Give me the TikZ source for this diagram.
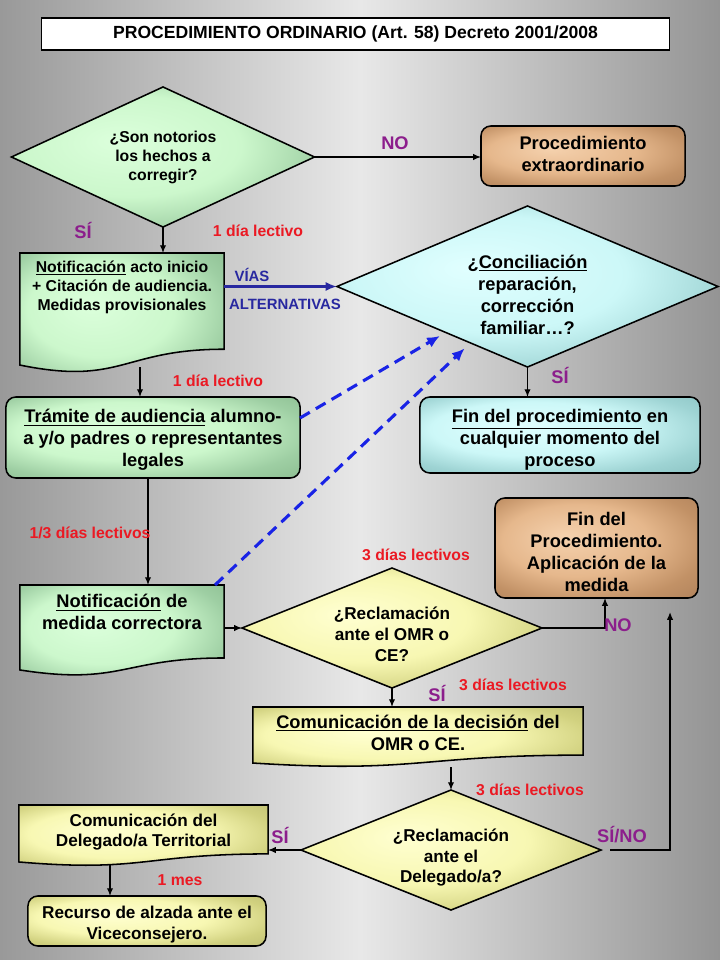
\documentclass[tikz,border=0pt]{standalone}
\usepackage{fontspec}
\setmainfont{Liberation Sans}
\usepackage{tikz}
\usetikzlibrary{arrows.meta,shapes.geometric,calc,backgrounds}

\definecolor{lblred}{RGB}{235,25,35}
\definecolor{lblpurple}{RGB}{140,30,140}
\definecolor{viablue}{RGB}{40,40,160}
\definecolor{dashblue}{RGB}{25,35,230}

\pgfdeclareradialshading{greenglow}{\pgfpoint{-8bp}{6bp}}{rgb(0bp)=(0.86,1,0.86); rgb(18bp)=(0.80,0.97,0.80); rgb(30bp)=(0.62,0.81,0.64); rgb(50bp)=(0.45,0.65,0.47)}
\pgfdeclareradialshading{cyanglow}{\pgfpoint{-8bp}{6bp}}{rgb(0bp)=(0.88,1,1); rgb(18bp)=(0.80,0.97,0.97); rgb(30bp)=(0.62,0.83,0.83); rgb(50bp)=(0.45,0.68,0.68)}
\pgfdeclareradialshading{yellowglow}{\pgfpoint{-8bp}{6bp}}{rgb(0bp)=(1,1,0.82); rgb(18bp)=(0.97,0.97,0.70); rgb(30bp)=(0.82,0.82,0.50); rgb(50bp)=(0.66,0.66,0.38)}
\pgfdeclareradialshading{tanglow}{\pgfpoint{-8bp}{6bp}}{rgb(0bp)=(0.96,0.82,0.68); rgb(18bp)=(0.90,0.72,0.55); rgb(30bp)=(0.76,0.57,0.40); rgb(50bp)=(0.60,0.43,0.30)}

\newcommand{\fbig}{\fontsize{13}{15.6}\selectfont\bfseries}
\newcommand{\fmid}{\fontsize{12.2}{14.8}\selectfont\bfseries}
\newcommand{\fsmall}{\fontsize{11.2}{13.6}\selectfont\bfseries}
% text of a box, centred on the node, raised by #1
\newcommand{\btext}[2][0pt]{\smash{\makebox[0pt]{\raisebox{\dimexpr#1-3.3pt\relax}{\begin{tabular}{@{}c@{}}#2\end{tabular}}}}}
% document outline (wavy bottom) round node #1 of height #2
\newcommand{\docoutline}[3]{%
  \shade[shading=#3, draw, line width=1.1pt]
    (#1.north west) -- (#1.north east) -- ($(#1.north east)+(0,0.802*#2)$)
    .. controls ($(#1.north)+(0,0.802*#2)$) and ($(#1.north)+(0,1.1075*#2)$) .. ($(#1.north west)+(0,0.934*#2)$) -- cycle;}

\begin{document}
\begin{tikzpicture}[x=0.025cm, y=-0.025cm, >=Latex,
    box/.style={rectangle, rounded corners=7pt, draw, line width=1.1pt, inner sep=0pt, outer sep=0pt, shade},
    docbox/.style={rectangle, inner sep=0pt, outer sep=0pt},
    dia/.style={diamond, draw, line width=1.1pt, inner sep=0pt, outer sep=0pt, shade},
    arr/.style={-{Latex[length=5.5pt,width=4.5pt]}, line width=0.9pt},
    via/.style={-{Latex[length=8pt,width=6.5pt]}, line width=2pt, viablue},
    alt/.style={-{Latex[length=9pt,width=8pt]}, line width=2.2pt, dashblue, dash pattern=on 8pt off 5pt},
    dias/.style={font=\fsmall, text=lblred, inner sep=1pt},
    sino/.style={font=\fbig, text=lblpurple, inner sep=1pt},
    vias/.style={font=\fontsize{10.6}{12}\selectfont\bfseries, text=viablue, inner sep=1pt}]
    \useasboundingbox (0,0) rectangle (720,960);
    \begin{pgfonlayer}{background}
      \shade[left color=black!40, right color=black!42, middle color=black!9] (0,0) rectangle (720,960);
    \end{pgfonlayer}

    \node[rectangle, draw, fill=white, line width=0.8pt, inner sep=0pt, minimum width=15.675cm, minimum height=0.8cm,
          font=\fontsize{12.5}{15}\selectfont\bfseries] (titulo) at (355.5,34)
          {\btext{PROCEDIMIENTO ORDINARIO (Art. 58) Decreto 2001/2008}};

    \node[dia, shading=greenglow, minimum width=7.575cm, minimum height=3.5cm, font=\fsmall] (notorios) at (163,157)
          {\btext{¿Son notorios\\los hechos a\\corregir?}};
    \node[box, shading=tanglow, minimum width=5.1cm, minimum height=1.5cm, font=\fbig] (extra) at (583,156)
          {\btext{Procedimiento\\extraordinario}};
    \node[docbox, minimum width=5.1cm, minimum height=3cm, font=\fsmall] (notif) at (122,313)
          {\btext[18.5pt]{\underline{Notificación} acto inicio\\+ Citación de audiencia.\\Medidas provisionales}};
    \node[dia, shading=cyanglow, minimum width=9.525cm, minimum height=4.025cm, font=\fbig] (concil) at (527.5,286.5)
          {\btext[-7pt]{¿\underline{Conciliación}\\reparación,\\corrección\\familiar…?}};
    \node[box, shading=cyanglow, minimum width=7cm, minimum height=1.9cm, font=\fbig] (finproc) at (560,435)
          {\btext[-3.5pt]{\underline{Fin del procedimiento} en\\cualquier momento del\\proceso}};
    \node[box, shading=greenglow, minimum width=7.35cm, minimum height=2.025cm, font=\fbig] (tramite) at (153,437.5)
          {\btext[-1.8pt]{\underline{Trámite de audiencia} alumno-\\a y/o padres o representantes\\legales}};
    \node[docbox, minimum width=5.1cm, minimum height=2.275cm, font=\fbig] (medida) at (122,630.5)
          {\btext[11.7pt]{\underline{Notificación} de\\medida correctora}};
    \node[dia, shading=yellowglow, minimum width=7.5cm, minimum height=3cm, font=\fmid] (reclam) at (392,628)
          {\btext[-5.7pt]{¿Reclamación\\ante el OMR o\\CE?}};
    \node[box, shading=tanglow, minimum width=5.075cm, minimum height=2.5cm, font=\fbig] (aplica) at (596.5,548)
          {\btext[-3.9pt]{Fin del\\Procedimiento.\\Aplicación de la\\medida}};
    \node[docbox, minimum width=8.25cm, minimum height=1.5cm, font=\fbig] (decision) at (418,737)
          {\btext[1.8pt]{\underline{Comunicación de la decisión} del\\OMR o CE.}};
    \node[dia, shading=yellowglow, minimum width=7.5cm, minimum height=3cm, font=\fmid] (delegado) at (451,850)
          {\btext[-5.3pt]{¿Reclamación\\ante el\\Delegado/a?}};
    \node[docbox, minimum width=6.225cm, minimum height=1.525cm, font=\fmid] (territ) at (143.5,835.5)
          {\btext[2.5pt]{Comunicación del\\Delegado/a Territorial}};
    \node[box, shading=yellowglow, minimum width=5.95cm, minimum height=1.25cm, font=\fmid] (alzada) at (147,921)
          {\btext[-2.5pt]{Recurso de alzada ante el\\Viceconsejero.}};

    \begin{pgfonlayer}{background}
      \docoutline{notif}{120}{greenglow}
      \docoutline{medida}{91}{greenglow}
      \docoutline{decision}{60}{yellowglow}
      \docoutline{territ}{61}{yellowglow}
    \end{pgfonlayer}

    % connectors
    \coordinate (notifout) at ($(notif.south)+(18,-6)$);
    \coordinate (tramout) at ($(tramite.south)+(-5,0)$);
    \coordinate (territout) at ($(territ.south)+(-33.5,-1)$);
    \coordinate (sinoup) at ($(aplica.south east)+(-28,14)$);
    \draw[arr] (notorios.south) -- (notorios.south |- notif.north);
    \draw[arr] (notorios.east) -- (notorios.east -| extra.west);
    \draw[via] (notif.east |- concil.west) -- (concil.west);
    \draw[arr] (concil.south) -- (concil.south |- finproc.north);
    \draw[arr] (notifout) -- (notifout |- tramite.north);
    \draw[arr] (tramout) -- (tramout |- medida.north);
    \draw[arr] (medida.east |- reclam.west) -- (reclam.west);
    \draw[arr] (reclam.east) -| ($(aplica.south)+(8.5,0)$);
    \draw[arr] (reclam.south) -- (reclam.south |- decision.north);
    \draw[arr] (delegado.north |- decision.south) -- (delegado.north);
    \draw[arr] ($(delegado.east)+(9,0)$) -| (sinoup);
    \draw[arr] (delegado.west) -- (delegado.west -| territ.east);
    \draw[arr] (territout) -- (territout |- alzada.north);
    \draw[alt] ($(tramite.north east)+(0,21)$) -- ($(concil.west)!0.54!(concil.south)+(0,6)$);
    \draw[alt] ($(medida.north east)+(-9,0)$) -- ($(concil.west)!0.67!(concil.south)+(0,8)$);

    % labels
    \node[sino] (noA) at (395,143) {NO};
    \node[sino] (siA) at (83,230) {SÍ};
    \node[dias] (diaA) at (258,231) {1 día lectivo};
    \node[vias] (viasA) at (252,275) {VÍAS};
    \node[vias] (viasB) at (285,304) {ALTERNATIVAS};
    \node[sino] (siB) at (560,375) {SÍ};
    \node[dias] (diaB) at (218,381) {1 día lectivo};
    \node[dias] (diaC) at (90,533) {1/3 días lectivos};
    \node[dias] (diaD) at (416,555) {3 días lectivos};
    \node[sino] (noB) at (618,625) {NO};
    \node[sino] (siC) at (437,693) {SÍ};
    \node[dias] (diaE) at (513,685) {3 días lectivos};
    \node[dias] (diaF) at (530,790) {3 días lectivos};
    \node[sino] (siD) at (280,835) {SÍ};
    \node[sino] (sinoA) at (622,835) {SÍ/NO};
    \node[dias] (mes) at (180,880) {1 mes};
\end{tikzpicture}
\end{document}
